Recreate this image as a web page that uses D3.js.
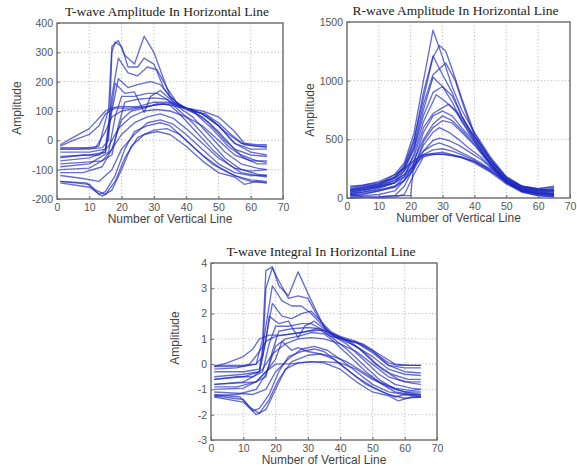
<!DOCTYPE html>
<html>
<head>
<meta charset="utf-8">
<script src="https://cdn.jsdelivr.net/npm/d3@7"></script>
<style>
  html, body { margin: 0; padding: 0; background: #fff; }
  svg { display: block; }
</style>
</head>
<body>
<svg id="chart" width="577" height="471"></svg>
<script>
// ---- data (points as [vertical line no., amplitude]) ----
const xTicks = [0, 10, 20, 30, 40, 50, 60, 70];

const tAmpTicks = [-200, -100, 0, 100, 200, 300, 400];
const tAmpLines = [
  [[1,-15],[5,10],[10,40],[15,100],[17,110],[19,115],[25,115],[30,130],[35,130],[40,110],[45,100],[50,80],[55,30],[58,-10],[62,-15],[65,-15]],
  [[1,-25],[5,-25],[10,-25],[13,-20],[16,110],[17,320],[19,340],[21,290],[24,260],[27,355],[30,300],[33,210],[35,150],[38,120],[42,100],[46,90],[50,60],[55,10],[58,-15],[62,-20],[65,-20]],
  [[1,-30],[10,-30],[14,-25],[16,0],[17,300],[18,335],[20,320],[22,250],[25,250],[27,280],[30,260],[33,180],[36,130],[40,110],[45,90],[50,50],[55,-10],[60,-30],[65,-30]],
  [[1,-40],[10,-40],[15,-30],[17,150],[19,280],[22,230],[25,220],[28,250],[31,240],[34,180],[37,130],[40,110],[45,80],[50,30],[55,-30],[60,-50],[65,-55]],
  [[1,-55],[10,-50],[15,-40],[17,100],[19,210],[22,180],[25,190],[29,200],[32,190],[35,150],[38,120],[42,100],[47,60],[52,0],[57,-50],[62,-70],[65,-75]],
  [[1,-70],[10,-60],[15,-40],[17,120],[18,195],[21,160],[24,165],[27,95],[29,150],[32,170],[35,140],[38,115],[43,90],[48,40],[53,-20],[58,-60],[62,-80],[65,-80]],
  [[1,-90],[10,-80],[16,-40],[18,80],[20,150],[24,150],[28,160],[31,160],[34,140],[38,110],[42,80],[47,20],[52,-40],[57,-80],[62,-95],[65,-100]],
  [[1,-100],[10,-95],[17,-50],[19,50],[21,130],[25,140],[30,145],[34,140],[38,100],[42,60],[47,0],[52,-60],[57,-100],[62,-115],[65,-120]],
  [[1,-110],[8,-110],[14,-90],[17,-30],[20,70],[23,100],[27,110],[31,125],[35,120],[38,90],[43,30],[48,-30],[53,-80],[57,-110],[62,-120],[65,-125]],
  [[1,-140],[10,-150],[13,-185],[15,-175],[18,-120],[21,-30],[24,30],[28,50],[32,60],[35,50],[40,0],[45,-50],[50,-90],[55,-120],[60,-135],[65,-140]],
  [[1,-140],[9,-145],[12,-170],[15,-185],[18,-140],[21,-60],[25,10],[30,35],[34,40],[38,20],[43,-30],[48,-80],[53,-110],[57,-130],[60,-140],[65,-145]],
  [[1,-145],[10,-160],[14,-190],[17,-170],[20,-100],[23,-20],[27,20],[31,30],[35,20],[40,-20],[45,-70],[50,-110],[55,-125],[58,-150],[62,-140],[65,-145]],
  [[1,-120],[8,-130],[13,-140],[17,-100],[20,-30],[24,20],[28,60],[32,70],[36,55],[40,20],[45,-30],[50,-80],[55,-110],[60,-120],[65,-120]],
  [[1,-80],[8,-75],[14,-70],[17,-30],[20,20],[24,60],[28,80],[32,90],[36,75],[40,40],[45,-10],[50,-60],[55,-95],[60,-105],[65,-100]],
  [[1,-60],[8,-50],[13,-50],[16,-20],[19,40],[23,80],[27,100],[31,105],[35,100],[40,80],[45,50],[50,0],[55,-50],[60,-70],[65,-70]],
  [[1,-30],[6,-30],[12,-25],[15,30],[17,80],[20,100],[25,110],[30,120],[35,125],[40,110],[45,90],[50,50],[55,-10],[60,-40],[65,-50]],
  [[1,-20],[5,0],[10,20],[13,50],[15,90],[18,110],[22,110],[28,115],[33,125],[37,115],[42,105],[47,80],[52,30],[57,-10],[62,-20],[65,-25]]
];

const rAmpTicks = [0, 500, 1000, 1500];
const rAmpLines = [
  [[1,70],[5,90],[10,120],[15,200],[18,300],[21,550],[24,1000],[27,1430],[30,1200],[33,950],[36,750],[40,560],[45,350],[50,180],[55,100],[60,70],[65,60]],
  [[1,60],[5,80],[10,110],[15,180],[18,280],[21,500],[24,850],[27,1200],[29,1300],[31,1250],[33,1100],[36,850],[40,550],[45,330],[50,170],[55,90],[60,60],[65,50]],
  [[1,50],[5,70],[10,100],[15,170],[18,270],[21,480],[24,900],[27,1210],[30,1050],[33,900],[36,700],[40,500],[45,300],[50,150],[55,80],[60,50],[65,40]],
  [[1,40],[5,60],[10,90],[15,150],[18,250],[21,450],[24,800],[27,1050],[31,1150],[34,1000],[37,750],[40,530],[45,320],[50,160],[55,80],[60,50],[65,40]],
  [[1,30],[5,50],[10,80],[15,130],[18,230],[21,420],[24,750],[27,1030],[30,950],[33,820],[36,650],[40,480],[45,290],[50,140],[55,70],[60,40],[65,30]],
  [[1,80],[5,100],[10,120],[15,180],[18,260],[21,420],[24,700],[27,900],[30,950],[33,870],[36,700],[40,520],[45,320],[50,170],[55,90],[60,70],[65,70]],
  [[1,20],[5,30],[10,60],[15,100],[18,180],[21,380],[24,650],[28,880],[31,820],[34,740],[37,620],[40,500],[45,300],[50,150],[55,70],[60,40],[65,30]],
  [[1,100],[5,110],[10,130],[15,170],[18,230],[21,350],[24,600],[27,720],[30,770],[32,800],[35,720],[38,600],[42,450],[46,300],[50,180],[55,100],[60,80],[65,90]],
  [[1,10],[5,20],[10,30],[15,60],[18,150],[21,300],[24,560],[27,700],[30,740],[33,700],[36,600],[40,480],[45,290],[50,140],[55,60],[60,30],[65,20]],
  [[1,60],[5,80],[10,100],[15,130],[18,200],[21,320],[24,500],[27,630],[30,700],[33,660],[36,580],[40,460],[45,290],[50,150],[55,80],[60,60],[65,70]],
  [[1,0],[5,5],[10,10],[15,20],[18,100],[21,260],[24,480],[27,600],[30,660],[33,640],[36,560],[40,450],[45,280],[50,130],[55,50],[60,20],[65,10]],
  [[1,20],[5,40],[10,60],[15,90],[18,150],[21,260],[24,450],[27,560],[29,600],[32,560],[35,500],[38,430],[42,350],[46,240],[50,130],[55,60],[60,40],[65,30]],
  [[1,40],[5,50],[10,70],[15,100],[18,150],[21,240],[24,400],[27,490],[29,510],[32,490],[35,450],[38,400],[42,330],[46,240],[50,140],[55,60],[60,40],[65,40]],
  [[1,0],[5,5],[10,10],[15,20],[18,20],[20,20],[21,300],[24,400],[27,450],[29,470],[32,440],[35,400],[38,360],[42,300],[46,220],[50,130],[55,60],[60,30],[65,20]],
  [[1,70],[5,90],[10,110],[15,150],[18,200],[21,280],[24,370],[27,410],[30,420],[33,400],[36,370],[40,320],[45,230],[50,140],[55,80],[60,70],[65,80]],
  [[1,50],[5,70],[10,90],[15,130],[18,180],[21,270],[24,360],[27,380],[30,390],[33,370],[36,350],[40,310],[45,230],[50,140],[55,70],[60,50],[65,60]],
  [[1,90],[5,110],[10,140],[15,200],[18,250],[21,320],[24,370],[27,375],[30,372],[33,360],[36,345],[40,310],[45,250],[50,160],[55,100],[60,80],[65,100]],
  [[1,30],[5,10],[10,0],[15,10],[18,30],[21,200],[24,350],[27,370],[30,375],[33,365],[36,345],[40,300],[45,220],[50,120],[55,50],[60,20],[65,10]]
];

const tIntTicks = [-3, -2, -1, 0, 1, 2, 3, 4];
const tIntLines = [
  [[1,-0.1],[5,0.05],[10,0.3],[13,0.6],[15,1.0],[18,1.15],[22,1.15],[28,1.25],[33,1.4],[37,1.1],[42,0.95],[47,0.8],[52,0.4],[57,0],[62,-0.05],[65,-0.05]],
  [[1,-0.05],[5,-0.05],[10,-0.05],[14,0],[16,1.0],[17,3.7],[19,3.85],[21,3.1],[24,2.7],[27,3.65],[30,2.8],[33,2.0],[35,1.5],[38,1.1],[42,0.95],[46,0.8],[50,0.5],[55,0.05],[58,-0.05],[62,-0.05],[65,-0.05]],
  [[1,-0.1],[10,-0.1],[14,0],[16,0.3],[17,3.0],[19,3.8],[21,3.3],[24,2.6],[27,2.7],[30,2.6],[33,1.9],[36,1.3],[40,1.05],[45,0.85],[50,0.45],[55,-0.05],[60,-0.15],[65,-0.15]],
  [[1,-0.3],[10,-0.3],[15,-0.2],[17,1.5],[19,3.1],[22,2.5],[25,2.3],[28,2.3],[31,2.0],[34,1.6],[37,1.2],[40,1.0],[45,0.7],[50,0.3],[55,-0.2],[60,-0.4],[65,-0.45]],
  [[1,-0.5],[10,-0.4],[15,-0.3],[17,1.0],[19,2.4],[22,1.9],[25,1.8],[28,2.0],[31,2.1],[34,1.7],[37,1.3],[41,1.0],[46,0.6],[51,0.0],[56,-0.4],[61,-0.6],[65,-0.6]],
  [[1,-0.6],[10,-0.5],[15,-0.3],[17,0.9],[18,1.9],[21,1.6],[24,1.7],[27,1.05],[29,1.5],[32,1.7],[35,1.4],[38,1.15],[43,0.9],[48,0.4],[53,-0.2],[58,-0.6],[62,-0.75],[65,-0.8]],
  [[1,-0.8],[10,-0.7],[16,-0.3],[18,0.8],[20,1.5],[24,1.5],[28,1.6],[31,1.6],[34,1.4],[38,1.1],[42,0.8],[47,0.2],[52,-0.4],[57,-0.8],[62,-0.95],[65,-1.0]],
  [[1,-1.0],[10,-0.95],[17,-0.5],[19,0.5],[21,1.3],[25,1.4],[30,1.45],[34,1.4],[38,1.0],[42,0.6],[47,0],[52,-0.6],[57,-1.0],[62,-1.15],[65,-1.2]],
  [[1,-1.25],[8,-1.2],[14,-1.0],[17,-0.4],[20,0.7],[23,1.0],[27,1.1],[31,1.25],[35,1.2],[38,0.9],[43,0.3],[48,-0.3],[53,-0.8],[57,-1.1],[62,-1.2],[65,-1.25]],
  [[1,-1.25],[10,-1.4],[13,-1.85],[15,-1.75],[18,-1.2],[21,-0.3],[24,0.3],[28,0.5],[32,0.6],[35,0.5],[40,0],[45,-0.5],[50,-0.9],[55,-1.2],[60,-1.35],[65,-1.3]],
  [[1,-1.2],[9,-1.3],[12,-1.7],[15,-1.95],[18,-1.4],[21,-0.6],[25,0.1],[30,0.35],[34,0.4],[38,0.2],[43,-0.3],[48,-0.8],[53,-1.1],[57,-1.3],[60,-1.2],[65,-1.3]],
  [[1,-1.3],[10,-1.5],[14,-2.0],[17,-1.8],[20,-1.0],[23,-0.2],[27,0.05],[31,0.1],[35,0.05],[40,-0.2],[45,-0.7],[50,-1.1],[55,-1.25],[58,-1.45],[62,-1.3],[65,-1.3]],
  [[1,-1.1],[8,-1.15],[13,-1.2],[17,-1.0],[20,-0.3],[24,0.2],[28,0.6],[32,0.7],[36,0.55],[40,0.2],[45,-0.3],[50,-0.8],[55,-1.1],[60,-1.2],[65,-1.2]],
  [[1,-0.8],[8,-0.75],[14,-0.7],[17,-0.3],[20,0.2],[22,0.9],[25,0.55],[27,0.65],[30,0.5],[34,0.4],[38,0.3],[42,0.1],[47,-0.3],[52,-0.7],[57,-0.95],[62,-1.05],[65,-1.0]],
  [[1,-0.6],[8,-0.5],[13,-0.5],[16,-0.2],[19,0.4],[23,0.8],[27,1.0],[31,1.05],[35,1.0],[40,0.8],[45,0.5],[50,0],[55,-0.5],[60,-0.7],[65,-0.7]],
  [[1,-0.9],[8,-0.9],[14,-0.7],[17,-0.3],[20,0],[25,0.02],[30,0.08],[35,0.1],[40,0.05],[45,-0.2],[50,-0.6],[55,-0.9],[60,-1.1],[65,-1.1]],
  [[1,-0.2],[8,-0.15],[12,0],[15,0.5],[17,0.9],[20,1.1],[25,1.2],[30,1.3],[35,1.35],[40,1.1],[45,0.9],[50,0.55],[55,-0.05],[60,-0.3],[65,-0.35]]
];

const titles = ["T-wave Amplitude In Horizontal Line", "R-wave Amplitude In Horizontal Line", "T-wave Integral In Horizontal Line"];

const svg = d3.select("#chart");

function panel({left, top, right, bottom, yTicks, lines, title, yLabelX, yLabelY}) {
  const x = d3.scaleLinear().domain([0, 70]).range([left, right]);
  const y = d3.scaleLinear().domain(d3.extent(yTicks)).range([bottom, top]);
  const g = svg.append("g");

  // grid
  g.append("g").selectAll("line").data(xTicks.slice(1, -1)).join("line")
    .attr("x1", d => x(d)).attr("x2", d => x(d)).attr("y1", top).attr("y2", bottom)
    .attr("stroke", "#aaa").attr("stroke-width", 0.8).attr("stroke-dasharray", "1.2,2.2");
  g.append("g").selectAll("line").data(yTicks.slice(1, -1)).join("line")
    .attr("y1", d => y(d)).attr("y2", d => y(d)).attr("x1", left).attr("x2", right)
    .attr("stroke", "#aaa").attr("stroke-width", 0.8).attr("stroke-dasharray", "1.2,2.2");

  // lines
  const line = d3.line().x(d => x(d[0])).y(d => y(d[1]));
  g.append("g").selectAll("path").data(lines).join("path")
    .attr("d", line).attr("fill", "none")
    .attr("stroke", "#1e28c0").attr("stroke-opacity", 0.68).attr("stroke-width", 1.35)
    .attr("stroke-linejoin", "round");

  // axes (ticks inside like matlab)
  const xa = g.append("g").attr("transform", `translate(0,${bottom})`)
    .call(d3.axisBottom(x).tickValues(xTicks).tickFormat(d => d).tickSize(-3).tickPadding(5).tickSizeOuter(0));
  const ya = g.append("g").attr("transform", `translate(${left},0)`)
    .call(d3.axisLeft(y).tickValues(yTicks).tickFormat(d => d).tickSize(-3).tickPadding(4).tickSizeOuter(0));
  [xa, ya].forEach(a => {
    a.select(".domain").remove();
    a.selectAll("line").attr("stroke", "#666");
    a.selectAll("text").attr("fill", "#555").attr("font-family", "Liberation Sans, Arial, sans-serif").attr("font-size", 10.5);
  });

  g.append("rect").attr("x", left).attr("y", top).attr("width", right - left).attr("height", bottom - top)
    .attr("fill", "none").attr("stroke", "#6a6a6a").attr("stroke-width", 1.4);

  g.append("text").attr("x", (left + right) / 2 - 3).attr("y", top - 7)
    .attr("text-anchor", "middle").attr("font-family", "Liberation Serif, Times New Roman, serif")
    .attr("font-size", 13.5).attr("fill", "#222").text(title);

  g.append("text").attr("x", (left + right) / 2).attr("y", bottom + 24)
    .attr("text-anchor", "middle").attr("font-family", "Liberation Sans, Arial, sans-serif")
    .attr("font-size", 12).attr("fill", "#444").text("Number of Vertical Line");

  g.append("text").attr("transform", `translate(${yLabelX},${yLabelY}) rotate(-90)`)
    .attr("text-anchor", "middle").attr("font-family", "Liberation Sans, Arial, sans-serif")
    .attr("font-size", 12).attr("fill", "#444").text("Amplitude");
}

panel({left: 57, top: 23, right: 283, bottom: 199, yTicks: tAmpTicks, lines: tAmpLines, title: titles[0], yLabelX: 21, yLabelY: 108});
panel({left: 347, top: 22, right: 570, bottom: 198, yTicks: rAmpTicks, lines: rAmpLines, title: titles[1], yLabelX: 314, yLabelY: 110});
panel({left: 211, top: 263, right: 437, bottom: 440, yTicks: tIntTicks, lines: tIntLines, title: titles[2], yLabelX: 179, yLabelY: 338});
</script>
</body>
</html>
